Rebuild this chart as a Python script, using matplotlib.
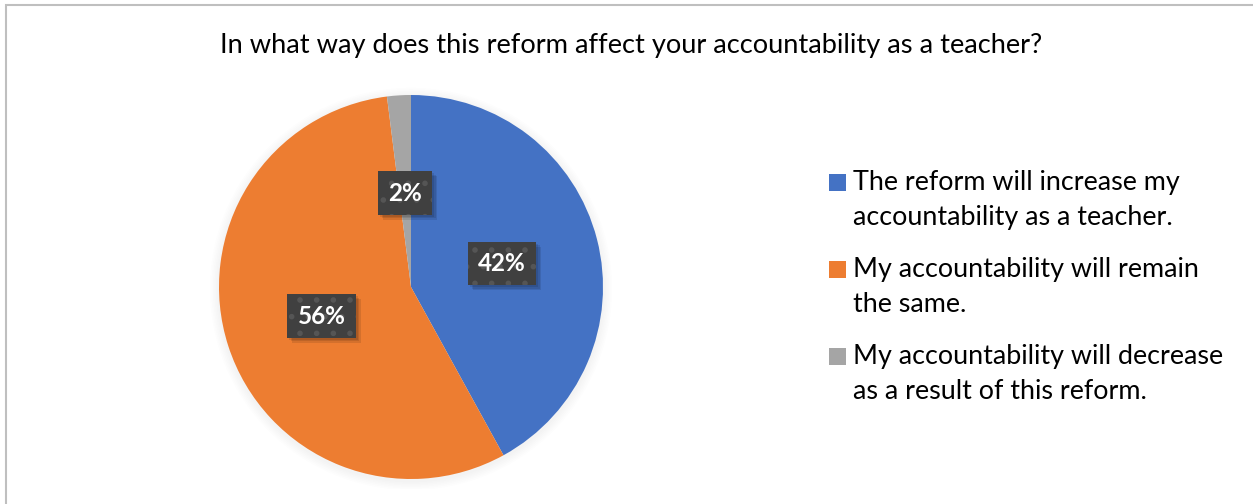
import matplotlib.pyplot as plt
from matplotlib.patches import Rectangle, Circle

# survey answers
answers = ['The reform will increase my\naccountability as a teacher.',
           'My accountability will remain\nthe same.',
           'My accountability will decrease\nas a result of this reform.']
shares = [42, 56, 2]
colors = ['#4472C4', '#ED7D31', '#A5A5A5']
title = 'In what way does this reform affect your accountability as a teacher?'

W, H = 1253, 504
FONT = 'Lato'
plt.rcParams['hatch.linewidth'] = 1.6


def fx(px):
    return px / W


def fy(py):
    return 1 - py / H


fig = plt.figure(figsize=(W / 100, H / 100), dpi=100)

# outer frame (right/bottom edges fall outside the image)
fig.patches.append(Rectangle((fx(6), -0.05), 1.1, fy(5) + 0.05, transform=fig.transFigure,
                             fill=False, edgecolor='#BFBFBF', linewidth=1.5))

fig.text(fx(631), fy(53), title, fontsize=19.6, family=FONT, color='#000000',
         ha='center', va='baseline')

ax = fig.add_axes([fx(219 - 0.05 * 192), fy(479 + 0.05 * 192), fx(384 * 1.05), 384 * 1.05 / H])
ax.set_aspect('equal')

# faint glow under the pie
for i in range(6):
    ax.add_patch(Circle((0, -0.01), 1.0 + 0.008 * (i + 1), facecolor='#000000',
                        alpha=0.008, edgecolor='none', zorder=0))

wedges, texts, autotexts = ax.pie(shares, colors=colors, startangle=90, counterclock=False,
                                  autopct='%.0f%%', pctdistance=0.49,
                                  wedgeprops=dict(linewidth=0),
                                  textprops=dict(color='white', fontsize=17.5,
                                                 fontweight='bold', family=FONT))
for w in wedges:
    w.set_zorder(2)
for t in autotexts:
    t.set_zorder(6)
    t.set_bbox(dict(boxstyle='square,pad=0.42', facecolor='#404040',
                    edgecolor='#555555', linewidth=0, hatch='.'))
ax.set_xlim(-1.05, 1.05)
ax.set_ylim(-1.05, 1.05)
ax.axis('off')

# soft drop shadow behind each label box
fig.canvas.draw()
for t in autotexts:
    bb = t.get_bbox_patch().get_window_extent()
    for k in range(3):
        d = 2 + 1.5 * k
        ax.add_artist(Rectangle(((bb.x0 + d) / W, (bb.y0 - d) / H), bb.width / W,
                                bb.height / H, transform=fig.transFigure,
                                facecolor='#000000', alpha=0.10, linewidth=0, zorder=4))

# legend, one block per answer
for i, (label, c) in enumerate(zip(answers, colors)):
    base = 190 + 87 * i
    fig.patches.append(Rectangle((fx(829), fy(base + 1)), fx(17), 17 / H,
                                 transform=fig.transFigure, facecolor=c, edgecolor='none'))
    for j, line in enumerate(label.split('\n')):
        fig.text(fx(853), fy(base + 35 * j), line, fontsize=19.4, family=FONT,
                 color='#000000', ha='left', va='baseline')

plt.savefig('out.png', dpi=100)
